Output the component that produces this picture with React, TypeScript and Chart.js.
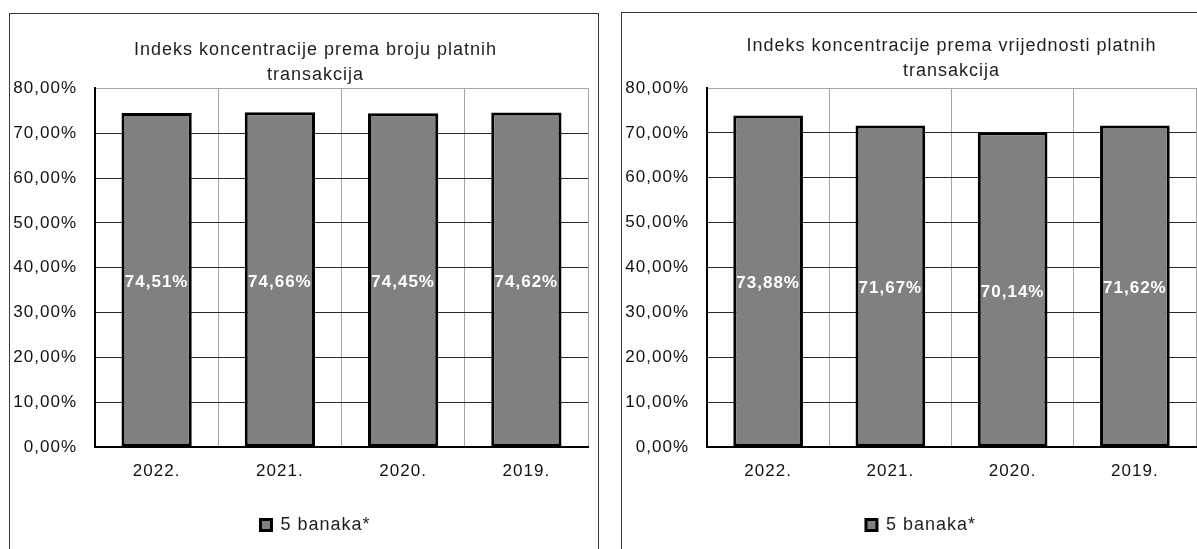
import React, { useEffect, useRef } from 'react';
import { Chart, registerables } from 'chart.js';

Chart.register(...registerables);

// ---- data ----
const categories = ['2022.', '2021.', '2020.', '2019.'];
const valuesBroj = [74.51, 74.66, 74.45, 74.62];
const valuesVrijednost = [73.88, 71.67, 70.14, 71.62];
const seriesName = '5 banaka*';
const titleBroj = ['Indeks koncentracije prema broju platnih', 'transakcija'];
const titleVrijednost = ['Indeks koncentracije prema vrijednosti platnih', 'transakcija'];
const yMin = 0;
const yMax = 80;
const yStep = 10;

const FONT = '"Liberation Sans", Arial, Helvetica, sans-serif';
const fmtPct = (v: number) => v.toFixed(2).replace('.', ',') + '%';

const setSpacing = (chart: any) => {
  const c: any = chart.ctx;
  if (c && 'letterSpacing' in c) c.letterSpacing = '1px';
};

const spacingPlugin = {
  id: 'letterSpacingPlugin',
  beforeUpdate(chart: any) { setSpacing(chart); },
  beforeLayout(chart: any) { setSpacing(chart); },
  beforeDraw(chart: any) { setSpacing(chart); },
};

const barLabelPlugin = {
  id: 'barValueLabels',
  afterDatasetsDraw(chart: any) {
    const ctx = chart.ctx;
    const meta = chart.getDatasetMeta(0);
    const data = chart.data.datasets[0].data as number[];
    ctx.save();
    setSpacing(chart);
    ctx.font = `bold 17px ${FONT}`;
    ctx.fillStyle = '#ffffff';
    ctx.textAlign = 'center';
    ctx.textBaseline = 'middle';
    meta.data.forEach((el: any, i: number) => {
      const p = el.getProps(['x', 'y', 'base'], true);
      ctx.fillText(fmtPct(data[i]), p.x, (p.y + p.base) / 2 + 2.5);
    });
    ctx.restore();
  },
};

type Props = {
  title: string[];
  values: number[];
  left: number;
  top: number;
  width: number;
  height: number;
  rightMargin: number;
  titleFullSize: boolean;
  titlePadTop: number;
  titlePadBottom: number;
};

function BarPanel(p: Props) {
  const ref = useRef<HTMLCanvasElement | null>(null);
  useEffect(() => {
    if (!ref.current) return;
    const chart = new Chart(ref.current, {
      type: 'bar',
      data: {
        labels: categories,
        datasets: [
          {
            label: seriesName,
            data: p.values,
            backgroundColor: '#808080',
            borderColor: '#000000',
            borderWidth: 3,
            borderSkipped: false,
            barPercentage: 0.57,
            categoryPercentage: 1,
            yAxisID: 'y',
          },
        ],
      },
      options: {
        responsive: false,
        animation: false,
        events: [],
        layout: { padding: { left: 0, right: 0, top: 0, bottom: 0 } },
        font: { family: FONT },
        plugins: {
          title: {
            display: true,
            text: p.title,
            fullSize: p.titleFullSize,
            color: '#1e1e1e',
            font: { family: FONT, size: 18, weight: 'normal', lineHeight: 1.4 },
            padding: { top: p.titlePadTop, bottom: p.titlePadBottom },
          },
          legend: {
            display: true,
            position: 'bottom',
            labels: {
              boxWidth: 11,
              boxHeight: 11,
              color: '#1e1e1e',
              padding: 20.6,
              font: { family: FONT, size: 18 },
            },
          },
          tooltip: { enabled: false },
        },
        scales: {
          x: {
            grid: {
              color: '#a6a6a6',
              lineWidth: 1,
              drawTicks: false,
              offset: true,
            },
            border: { display: true, color: '#000000', width: 2 },
            ticks: {
              color: '#111111',
              padding: 14,
              font: { family: FONT, size: 17 },
            },
          },
          y: {
            min: yMin,
            max: yMax,
            afterFit: (scale: any) => { scale.width = 85; },
            grid: {
              color: (c: any) => (c.tick && c.tick.value === yMax ? '#a6a6a6' : '#2a2a2a'),
              lineWidth: 1,
              drawTicks: false,
            },
            border: { display: true, color: '#000000', width: 2 },
            ticks: {
              stepSize: yStep,
              color: '#111111',
              padding: 18,
              font: { family: FONT, size: 17 },
              callback: (v: any) => fmtPct(Number(v)),
            },
          },
          // empty right-hand margin axis (no ticks, no lines)
          yRight: {
            type: 'linear',
            position: 'right',
            display: true,
            grid: { display: false, drawOnChartArea: false, drawTicks: false },
            border: { display: false },
            ticks: { display: false },
            afterFit: (scale: any) => { scale.width = p.rightMargin; },
          },
        },
      },
      plugins: [spacingPlugin, barLabelPlugin],
    } as any);
    return () => chart.destroy();
  }, []);
  return (
    <canvas
      ref={ref}
      width={p.width}
      height={p.height}
      style={{ position: 'absolute', left: p.left, top: p.top, width: p.width, height: p.height, display: 'block' }}
    />
  );
}

export default function App() {
  return (
    <div
      style={{
        position: 'absolute',
        left: 0,
        top: 0,
        width: 1197,
        height: 549,
        overflow: 'hidden',
        background: '#ffffff',
      }}
    >
      <div
        style={{
          position: 'absolute',
          left: 9,
          top: 13,
          width: 590,
          height: 600,
          border: '1px solid #3a3a3a',
          boxSizing: 'border-box',
        }}
      />
      <div
        style={{
          position: 'absolute',
          left: 621,
          top: 12,
          width: 600,
          height: 600,
          border: '1px solid #3a3a3a',
          boxSizing: 'border-box',
        }}
      />
      <BarPanel
        title={titleBroj}
        values={valuesBroj}
        left={10}
        top={14}
        width={611}
        height={530}
        rightMargin={33}
        titleFullSize={true}
        titlePadTop={23}
        titlePadBottom={1}
      />
      <BarPanel
        title={titleVrijednost}
        values={valuesVrijednost}
        left={622}
        top={12}
        width={598}
        height={532}
        rightMargin={24}
        titleFullSize={false}
        titlePadTop={21}
        titlePadBottom={4.6}
      />
    </div>
  );
}
